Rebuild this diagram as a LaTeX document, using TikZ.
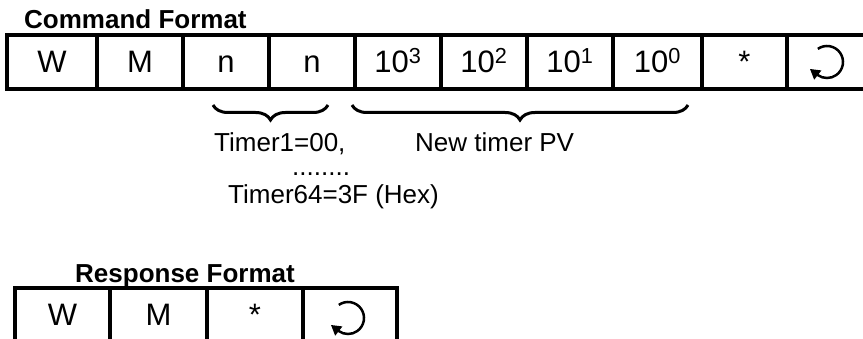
\documentclass[tikz,border=0pt]{standalone}
\usepackage{fontspec}
\setmainfont{Liberation Sans}
\usetikzlibrary{decorations.pathreplacing,arrows.meta}
\begin{document}
\begin{tikzpicture}[x=1pt,y=1pt,
  cell/.style={draw, line width=3.5pt, minimum height=54pt, inner sep=0pt, outer sep=0pt,
    font=\fontsize{31}{34}\selectfont, text height=22pt, text depth=0pt},
  lbl/.style={font=\fontsize{26}{30}\selectfont, inner sep=0pt, anchor=base west},
  ttl/.style={font=\bfseries\fontsize{26}{30}\selectfont, inner sep=0pt, anchor=base west},
  brc/.style={decorate, decoration={brace, mirror, amplitude=15pt}, line width=3pt},
  retarr/.style={line width=2.5pt, -{Triangle[length=10pt,width=11pt]}}]
\clip (0,0) rectangle (863,-339);
% titles
\node[ttl] (t1) at (24,-29) {Command Format};
\node[ttl] (t2) at (75,-283) {Response Format};
% command cells
\node[cell, minimum width=90pt] (c1) at (52,-62) {W};
\node[cell, minimum width=86pt] (c2) at (140,-62) {M};
\node[cell, minimum width=86pt] (c3) at (226,-62) {n};
\node[cell, minimum width=86pt] (c4) at (312,-62) {n};
\node[cell, minimum width=86pt] (c5) at (398,-62) {10\textsuperscript{3}};
\node[cell, minimum width=86pt] (c6) at (484,-62) {10\textsuperscript{2}};
\node[cell, minimum width=86pt] (c7) at (570,-62) {10\textsuperscript{1}};
\node[cell, minimum width=89pt] (c8) at (657.5,-62) {10\textsuperscript{0}};
\node[cell, minimum width=85pt] (c9) at (744.5,-62) {*};
\node[cell, minimum width=86pt] (c10) at (830,-62) {};
\draw[retarr] ([shift={(-3,0)}]c10.center) ++(125:16) arc[start angle=125, end angle=-125, radius=16] -- ++(-7.9,6.2);
% braces
\coordinate (b1a) at (213,-105);
\coordinate (b1b) at (328,-105);
\coordinate (b2a) at (352,-105);
\coordinate (b2b) at (688,-105);
\draw[brc] (b1a) -- (b1b);
\draw[brc] (b2a) -- (b2b);
% labels
\node[lbl] (l1) at (214,-152) {Timer1=00,};
\node[lbl] (l2) at (415,-152) {New timer PV};
\node[lbl] (l3) at (292,-176) {........};
\node[lbl] (l4) at (228,-204) {Timer64=3F (Hex)};
% response cells
\node[cell, minimum width=95pt] (r1) at (62.5,-315) {W};
\node[cell, minimum width=97pt] (r2) at (158.5,-315) {M};
\node[cell, minimum width=96pt] (r3) at (255,-315) {*};
\node[cell, minimum width=94pt] (r4) at (350,-315) {};
\draw[retarr] ([shift={(-2,-3)}]r4.center) ++(125:16) arc[start angle=125, end angle=-125, radius=16] -- ++(-7.9,6.2);
\end{tikzpicture}
\end{document}
